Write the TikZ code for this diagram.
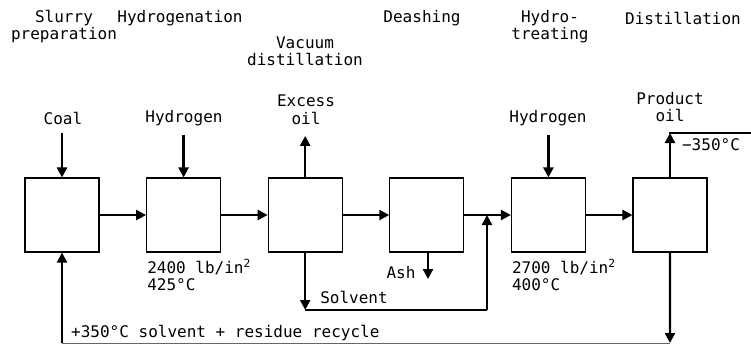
\documentclass[tikz,border=0pt]{standalone}
\usepackage{fontspec}
\setmainfont{DejaVu Sans Mono}
\usetikzlibrary{positioning,arrows.meta}

\begin{document}
\begin{tikzpicture}[
x=1pt, y=1pt,
node distance=46.5pt,
every node/.style={font=\fontsize{16}{17.5}\selectfont, inner sep=1pt, align=center},
unit/.style={draw, line width=1.1pt, minimum width=74pt, minimum height=74pt, inner sep=0pt},
flow/.style={line width=2.3pt, -{Triangle[length=10pt, width=10pt]}},
pipe/.style={line width=1.8pt}
]

\useasboundingbox (0,0) rectangle (751,-345);

%-------------------------
% Units
%-------------------------

\node (slurry)  [unit] at (62,-215) {};
\node (hydrog)  [unit, right=of slurry] {};
\node (vacuum)  [unit, right=of hydrog] {};
\node (deash)   [unit, right=of vacuum] {};
\node (hytreat) [unit, right=of deash] {};
\node (distil)  [unit, right=of hytreat] {};

%-------------------------
% Stage titles
%-------------------------

\node (tslurry)  at (64,-26.5)  {Slurry\\preparation};
\node (thydrog)  at (180,-18)   {Hydrogenation};
\node (tvacuum)  at (305,-51.5) {Vacuum\\distillation};
\node (tdeash)   at (422,-18)   {Deashing};
\node (thytreat) at (550,-26.5) {Hydro-\\treating};
\node (tdistil)  at (683,-18)   {Distillation};

%-------------------------
% Streams
%-------------------------

\node (coal)    at (63,-118)  {Coal};
\node (hydin)   at (184,-118) {Hydrogen};
\node (excess)  at (306,-110) {Excess\\oil};
\node (hydin2)  at (548,-118) {Hydrogen};
\node (product) at (670,-107) {Product\\oil};
\node (cut)     at (711,-145) {−350°C};

\node (cond1) [below right=5pt and 0pt of hydrog.south west, align=left]
{2400 lb/in\textsuperscript{2}\\425°C};
\node (cond2) [below right=5pt and 0pt of hytreat.south west, align=left]
{2700 lb/in\textsuperscript{2}\\400°C};

\coordinate (ashout)  at (428,-279);
\coordinate (solvend) at (487,-310);
\coordinate (junct)   at (487,-215);
\coordinate (prodout) at (751,-133);
\coordinate (recyc)   at (670,-343);

\node (ash)     at (401,-273) {Ash};
\node (solvent) at (354,-297) {Solvent};
\node (recycle) [anchor=west] at (70,-333) {+350°C solvent + residue recycle};

%-------------------------
% Arrows
%-------------------------

\draw[flow, shorten <=8pt] (slurry.north |- coal.south) -- (slurry.north);
\draw[flow, shorten <=8pt] (hydrog.north |- hydin.south) -- (hydrog.north);
\draw[flow, shorten <=8pt] (hytreat.north |- hydin2.south) -- (hytreat.north);
\draw[flow, shorten >=10pt] (vacuum.north) -- (vacuum.north |- excess.south);

\draw[flow] (slurry) -- (hydrog);
\draw[flow] (hydrog) -- (vacuum);
\draw[flow] (vacuum) -- (deash);
\draw[flow] (deash) -- (hytreat);
\draw[flow] (hytreat) -- (distil);

\draw[flow] (deash.south -| ashout) -- (ashout);

\draw[flow] (vacuum.south) -- (vacuum.south |- solvend);
\draw[pipe] (vacuum.south |- solvend) -- (solvend);
\draw[flow] (solvend) -- (junct);

\draw[flow] (distil.north) -- (distil.north |- prodout);
\draw[pipe] ([xshift=-1pt]distil.north |- prodout) -- (prodout);

\draw[flow] (distil.south) -- (recyc);
\draw[line width=0.8pt, black!60] (recyc) -- (slurry.south |- recyc);
\draw[flow] (slurry.south |- recyc) -- (slurry.south);

\end{tikzpicture}
\end{document}
